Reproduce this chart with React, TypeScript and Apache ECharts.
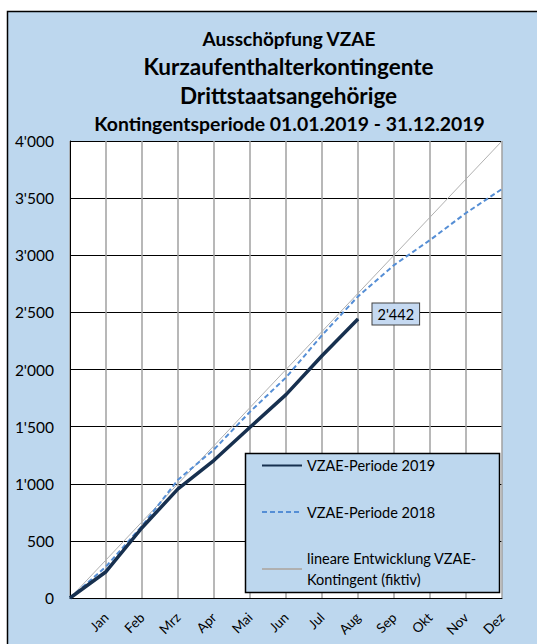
import React, { useEffect, useRef } from "react";
import * as echarts from "echarts";

const months = ["", "Jan", "Feb", "Mrz", "Apr", "Mai", "Jun", "Jul", "Aug", "Sep", "Okt", "Nov", "Dez"];
const series2019 = [0, 230, 615, 955, 1205, 1495, 1780, 2120, 2442];
const series2018 = [0, 275, 630, 1035, 1300, 1630, 1930, 2300, 2640, 2914, 3133, 3370, 3580];
const linear = [0, 333, 667, 1000, 1333, 1667, 2000, 2333, 2667, 3000, 3333, 3667, 4000];
const titles = [
  "Ausschöpfung VZAE",
  "Kurzaufenthalterkontingente",
  "Drittstaatsangehörige",
  "Kontingentsperiode 01.01.2019 - 31.12.2019",
];
const legendNames = ["VZAE-Periode 2019", "VZAE-Periode 2018", "lineare Entwicklung VZAE-\nKontingent (fiktiv)"];

const FONT = "Lato, 'Open Sans', sans-serif";
const fmt = (v: number) => String(v).replace(/\B(?=(\d{3})+(?!\d))/g, "'");

export default function App() {
  const ref = useRef<HTMLDivElement>(null);
  useEffect(() => {
    const chart = echarts.init(ref.current!, null, { renderer: "svg" });
    const lastIdx = series2019.length - 1;
    chart.setOption({
      animation: false,
      textStyle: { fontFamily: FONT },
      graphic: [
        {
          type: "rect",
          z: -10,
          shape: { x: 7.5, y: 11.5, width: 560, height: 660 },
          style: { fill: "#BDD7EE", stroke: "#000", lineWidth: 1.5 },
        },
        {
          type: "rect",
          z: 6,
          shape: { x: 245.5, y: 453.5, width: 254, height: 139 },
          style: { fill: "#BDD7EE", stroke: "#000", lineWidth: 1.5 },
        },
        { type: "text", x: 289, y: 38, style: { text: titles[0], font: `bold 19px ${FONT}`, fill: "#000", align: "center", verticalAlign: "middle" } },
        { type: "text", x: 288.5, y: 66, style: { text: titles[1], font: `bold 22.5px ${FONT}`, fill: "#000", align: "center", verticalAlign: "middle" } },
        { type: "text", x: 288.5, y: 95, style: { text: titles[2], font: `bold 22.5px ${FONT}`, fill: "#000", align: "center", verticalAlign: "middle" } },
        { type: "text", x: 289.5, y: 123, style: { text: titles[3], font: `bold 19.4px ${FONT}`, fill: "#000", align: "center", verticalAlign: "middle" } },
      ],
      grid: { left: 70, right: 35, top: 141, bottom: 46, show: true, backgroundColor: "#fff", borderWidth: 0 },
      legend: {
        orient: "vertical",
        left: 256,
        top: 450,
        z: 10,
        itemWidth: 40,
        itemHeight: 14,
        itemGap: 25.5,
        itemStyle: { opacity: 0 },
        textStyle: { fontSize: 14.5, lineHeight: 21, color: "#000", fontFamily: FONT },
        data: legendNames,
      },
      xAxis: {
        type: "category",
        boundaryGap: false,
        data: months,
        axisLine: { lineStyle: { color: "#000", width: 1 } },
        axisTick: { show: false },
        splitLine: { show: true, lineStyle: { color: "#A0A0A0", width: 1.5 } },
        axisLabel: { interval: 0, rotate: 45, margin: 17, fontSize: 13.5, color: "#000", fontFamily: FONT },
      },
      yAxis: {
        type: "value",
        min: 0,
        max: 4000,
        interval: 500,
        axisLine: { show: true, lineStyle: { color: "#000", width: 1 } },
        axisTick: { show: false },
        splitLine: { lineStyle: { color: "#000", width: 1 } },
        axisLabel: { formatter: fmt, margin: 16, fontSize: 15.5, color: "#000", fontFamily: FONT },
      },
      series: [
        {
          name: legendNames[2],
          type: "line",
          data: linear,
          symbol: "none",
          z: 2,
          lineStyle: { color: "#B0B0B0", width: 1 },
          itemStyle: { color: "#B0B0B0" },
        },
        {
          name: legendNames[1],
          type: "line",
          data: series2018,
          symbol: "none",
          z: 3,
          lineStyle: { color: "#558ED5", width: 2, type: [5, 3] },
          itemStyle: { color: "#558ED5" },
        },
        {
          name: legendNames[0],
          type: "line",
          data: series2019.map((v, i) =>
            i === lastIdx
              ? {
                  value: v,
                  symbol: "circle",
                  symbolSize: 1,
                  label: {
                    show: true,
                    position: "right",
                    offset: [9, -5],
                    formatter: (p: any) => fmt(p.value),
                    backgroundColor: "#C5D9F1",
                    borderColor: "#404040",
                    borderWidth: 1,
                    padding: [4, 5, 2, 5],
                    fontSize: 14.5,
                    color: "#000",
                    fontFamily: FONT,
                  },
                }
              : v
          ),
          symbol: "none",
          z: 4,
          lineStyle: { color: "#17304F", width: 3.5 },
          itemStyle: { color: "#17304F" },
        },
      ],
    });
    return () => chart.dispose();
  }, []);
  return <div ref={ref} style={{ position: "absolute", left: 0, top: 0, width: 537, height: 644 }} />;
}
